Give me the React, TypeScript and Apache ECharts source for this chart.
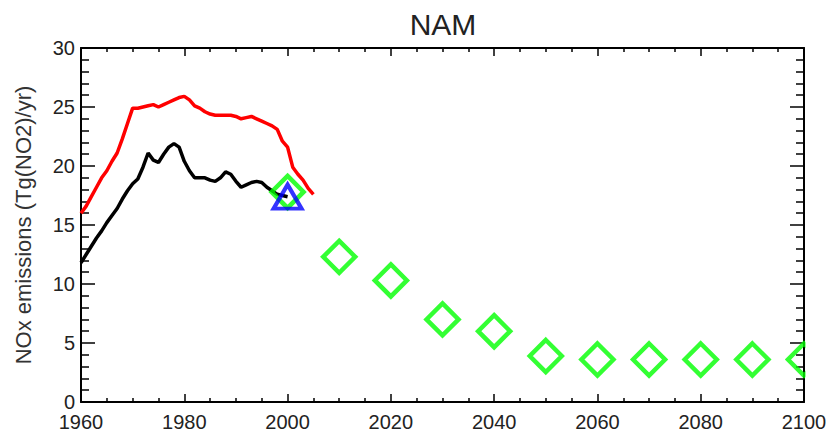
import React, { useEffect, useRef } from "react";
import * as echarts from "echarts";

// Historical inventory (red), 1960-2005
const redYears = [
  1960, 1961, 1962, 1963, 1964, 1965, 1966, 1967, 1968, 1969,
  1970, 1971, 1972, 1973, 1974, 1975, 1976, 1977, 1978, 1979,
  1980, 1981, 1982, 1983, 1984, 1985, 1986, 1987, 1988, 1989,
  1990, 1991, 1992, 1993, 1994, 1995, 1996, 1997, 1998, 1999,
  2000, 2001, 2002, 2003, 2004, 2005,
];
const redValues = [
  16.0, 16.6, 17.4, 18.2, 19.0, 19.6, 20.4, 21.1, 22.3, 23.6,
  24.9, 24.9, 25.0, 25.1, 25.2, 25.0, 25.2, 25.4, 25.6, 25.8,
  25.9, 25.6, 25.1, 24.9, 24.6, 24.4, 24.3, 24.3, 24.3, 24.3,
  24.2, 24.0, 24.1, 24.2, 24.0, 23.8, 23.6, 23.4, 23.1, 22.1,
  21.6, 19.9, 19.3, 18.8, 18.1, 17.6,
];

// Historical inventory (black), 1960-2000
const blackYears = [
  1960, 1961, 1962, 1963, 1964, 1965, 1966, 1967, 1968, 1969,
  1970, 1971, 1972, 1973, 1974, 1975, 1976, 1977, 1978, 1979,
  1980, 1981, 1982, 1983, 1984, 1985, 1986, 1987, 1988, 1989,
  1990, 1991, 1992, 1993, 1994, 1995, 1996, 1997, 1998, 1999,
  2000,
];
const blackValues = [
  11.8, 12.5, 13.2, 13.9, 14.5, 15.2, 15.8, 16.4, 17.2, 17.9,
  18.5, 18.9, 19.9, 21.1, 20.5, 20.3, 21.0, 21.6, 21.9, 21.6,
  20.4, 19.6, 19.0, 19.0, 19.0, 18.8, 18.7, 19.0, 19.5, 19.3,
  18.7, 18.2, 18.4, 18.6, 18.7, 18.6, 18.2, 17.9, 17.6, 17.5,
  17.4,
];

// Projection (green diamonds)
const projYears = [2000, 2010, 2020, 2030, 2040, 2050, 2060, 2070, 2080, 2090, 2100];
const projValues = [17.8, 12.3, 10.3, 7.0, 6.0, 3.9, 3.6, 3.6, 3.6, 3.6, 3.6];

// Reference point (blue triangle)
const refYears = [2000];
const refValues = [17.4];

const titleText = "NAM";
const yTitle = "NOx emissions (Tg(NO2)/yr)";

const FONT = "'Liberation Sans', Arial, Helvetica, sans-serif";

function zip(xs: number[], ys: number[]) {
  return xs.map((x, i) => [x, ys[i]]);
}

export default function App() {
  const ref = useRef<HTMLDivElement>(null);

  useEffect(() => {
    if (!ref.current) return;
    const chart = echarts.init(ref.current, undefined, { renderer: "svg" });

    const xCommon = {
      type: "value" as const,
      min: 1960,
      max: 2100,
      interval: 20,
      splitLine: { show: false },
      axisLine: { show: true, onZero: false, lineStyle: { color: "#000", width: 2 } },
      axisTick: { show: true, inside: true, length: 8, lineStyle: { color: "#000", width: 1.5 } },
      minorTick: { show: true, splitNumber: 4, length: 4, lineStyle: { color: "#000", width: 1.5 } },
    };
    const yCommon = {
      type: "value" as const,
      min: 0,
      max: 30,
      interval: 5,
      splitLine: { show: false },
      axisLine: { show: true, onZero: false, lineStyle: { color: "#000", width: 2 } },
      axisTick: { show: true, inside: true, length: 14, lineStyle: { color: "#000", width: 1.5 } },
      minorTick: { show: true, splitNumber: 5, length: 8, lineStyle: { color: "#000", width: 1.5 } },
    };

    chart.setOption({
      animation: false,
      backgroundColor: "#fff",
      grid: {
        left: 81,
        right: 28,
        top: 48,
        bottom: 33,
        containLabel: false,
        outerBoundsMode: "none",
      },
      xAxis: [
        {
          ...xCommon,
          position: "bottom",
          axisLabel: {
            show: true,
            fontSize: 20,
            color: "#222",
            fontFamily: FONT,
            margin: 10,
            formatter: (v: number) => String(v),
          },
        },
        {
          ...xCommon,
          position: "top",
          axisLabel: { show: false },
        },
      ],
      yAxis: [
        {
          ...yCommon,
          position: "left",
          axisLabel: {
            show: true,
            fontSize: 20,
            color: "#222",
            fontFamily: FONT,
            margin: 6,
            formatter: (v: number) => String(v),
          },
        },
        {
          ...yCommon,
          position: "right",
          axisLabel: { show: false },
        },
      ],
      series: [
        {
          type: "line",
          data: zip(blackYears, blackValues),
          showSymbol: false,
          symbol: "none",
          lineStyle: { color: "#000", width: 3.5 },
          z: 2,
        },
        {
          type: "line",
          data: zip(redYears, redValues),
          showSymbol: false,
          symbol: "none",
          lineStyle: { color: "#ff0000", width: 3.5 },
          z: 3,
        },
        {
          type: "scatter",
          data: zip(projYears, projValues),
          symbol: "diamond",
          symbolSize: [32, 32],
          itemStyle: { color: "rgba(0,0,0,0)", borderColor: "#00ff00", borderWidth: 4.5 },
          z: 4,
        },
        {
          type: "scatter",
          data: zip(refYears, refValues),
          symbol: "triangle",
          symbolSize: [28, 24],
          itemStyle: { color: "rgba(0,0,0,0)", borderColor: "#0000ff", borderWidth: 4 },
          z: 5,
        },
      ],
      graphic: [
        {
          type: "rect",
          z: 100,
          shape: { x: 805.5, y: 320, width: 30, height: 80 },
          style: { fill: "#fff" },
        },
        {
          type: "text",
          z: 100,
          x: 443,
          y: 24,
          style: {
            text: titleText,
            font: `30px ${FONT}`,
            fill: "#222",
            textAlign: "center",
            textVerticalAlign: "middle",
          },
        },
        {
          type: "text",
          z: 100,
          x: 23,
          y: 225,
          rotation: Math.PI / 2,
          style: {
            text: yTitle,
            font: `22px ${FONT}`,
            fill: "#333",
            textAlign: "center",
            textVerticalAlign: "middle",
          },
        },
      ],
    });

    return () => {
      chart.dispose();
    };
  }, []);

  return <div ref={ref} style={{ width: 832, height: 435, position: "absolute", left: 0, top: 0 }} />;
}
